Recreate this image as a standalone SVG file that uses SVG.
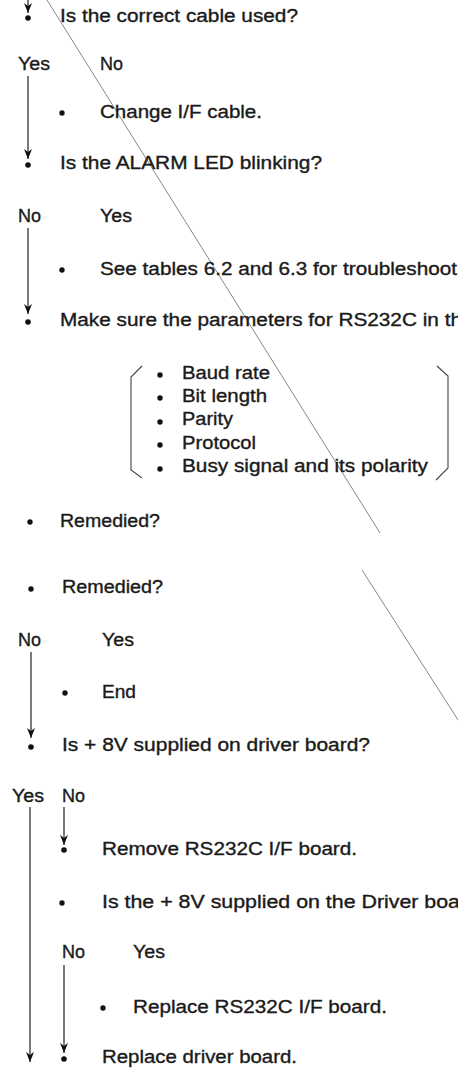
<svg xmlns="http://www.w3.org/2000/svg" width="458" height="1078" viewBox="0 0 458 1078">
<style>
text{font-family:"Liberation Sans",Arial,sans-serif;font-size:18px;fill:#1a1a1a;stroke:#1a1a1a;stroke-width:0.35}
.c{stroke:#222;stroke-width:1.2;fill:none}
.d{stroke:#888;stroke-width:1;fill:none}
.b{stroke:#444;stroke-width:1.1;fill:none}
.dot{fill:#111}
</style>
<defs>
<marker id="ah" viewBox="0 0 10 8" refX="10" refY="4" markerWidth="10" markerHeight="8" markerUnits="userSpaceOnUse" orient="auto">
<path d="M0,0 L10,4 L0,8 L3,4 Z" fill="#111"/>
</marker>
</defs>
<g id="diagonals">
<line class="d" x1="47" y1="0" x2="380" y2="533"/>
<line class="d" x1="362" y1="570" x2="460" y2="723"/>
</g>
<g id="connectors">
<line class="c" x1="28" y1="0" x2="28" y2="13" marker-end="url(#ah)"/>
<line class="c" x1="28" y1="76" x2="28" y2="159" marker-end="url(#ah)"/>
<line class="c" x1="28" y1="228" x2="28" y2="314" marker-end="url(#ah)"/>
<line class="c" x1="31" y1="652" x2="31" y2="738" marker-end="url(#ah)"/>
<line class="c" x1="30" y1="807" x2="30" y2="1062" marker-end="url(#ah)"/>
<line class="c" x1="64" y1="807" x2="64" y2="845" marker-end="url(#ah)"/>
<line class="c" x1="64" y1="965" x2="64" y2="1053" marker-end="url(#ah)"/>
<circle class="dot" cx="28" cy="18" r="2.8"/>
<circle class="dot" cx="28" cy="165" r="2.8"/>
<circle class="dot" cx="28" cy="322" r="2.8"/>
<circle class="dot" cx="31" cy="747" r="2.8"/>
<circle class="dot" cx="64" cy="850" r="2.8"/>
<circle class="dot" cx="64" cy="1059" r="2.8"/>
</g>
<g id="q1"><text x="60" y="22" textLength="238" lengthAdjust="spacingAndGlyphs">Is the correct cable used?</text></g>
<g id="q1-yes"><text x="18" y="70" textLength="32" lengthAdjust="spacingAndGlyphs">Yes</text></g>
<g id="q1-no"><text x="100" y="70" textLength="23" lengthAdjust="spacingAndGlyphs">No</text></g>
<g id="a1"><circle class="dot" cx="62" cy="113" r="2.7"/><text x="100" y="118" textLength="162" lengthAdjust="spacingAndGlyphs">Change I/F cable.</text></g>
<g id="q2"><text x="60" y="169" textLength="262" lengthAdjust="spacingAndGlyphs">Is the ALARM LED blinking?</text></g>
<g id="q2-no"><text x="18" y="222" textLength="23" lengthAdjust="spacingAndGlyphs">No</text></g>
<g id="q2-yes"><text x="100" y="222" textLength="32" lengthAdjust="spacingAndGlyphs">Yes</text></g>
<g id="a2"><circle class="dot" cx="62" cy="270" r="2.7"/><text x="100" y="275" textLength="357" lengthAdjust="spacingAndGlyphs">See tables 6.2 and 6.3 for troubleshoot</text></g>
<g id="s3"><text x="60" y="326" textLength="402" lengthAdjust="spacingAndGlyphs">Make sure the parameters for RS232C in th</text></g>
<g id="params">
<path class="b" d="M142,366 L131,377 L131,470 L142,478"/>
<path class="b" d="M437,366 L448,376 L448,468 L436,480"/>
<circle class="dot" cx="160" cy="375" r="2.7"/><text x="182" y="379" textLength="88" lengthAdjust="spacingAndGlyphs">Baud rate</text>
<circle class="dot" cx="160" cy="398" r="2.7"/><text x="182" y="402" textLength="85" lengthAdjust="spacingAndGlyphs">Bit length</text>
<circle class="dot" cx="160" cy="422" r="2.7"/><text x="182" y="425" textLength="51" lengthAdjust="spacingAndGlyphs">Parity</text>
<circle class="dot" cx="160" cy="445" r="2.7"/><text x="182" y="449" textLength="74" lengthAdjust="spacingAndGlyphs">Protocol</text>
<circle class="dot" cx="160" cy="469" r="2.7"/><text x="182" y="472" textLength="246" lengthAdjust="spacingAndGlyphs">Busy signal and its polarity</text>
</g>
<g id="r1"><circle class="dot" cx="30" cy="522" r="2.7"/><text x="60" y="527" textLength="100" lengthAdjust="spacingAndGlyphs">Remedied?</text></g>
<g id="r2"><circle class="dot" cx="31" cy="589" r="2.7"/><text x="62" y="593" textLength="101" lengthAdjust="spacingAndGlyphs">Remedied?</text></g>
<g id="r2-no"><text x="18" y="646" textLength="23" lengthAdjust="spacingAndGlyphs">No</text></g>
<g id="r2-yes"><text x="102" y="646" textLength="32" lengthAdjust="spacingAndGlyphs">Yes</text></g>
<g id="end"><circle class="dot" cx="65" cy="693" r="2.7"/><text x="102" y="698" textLength="34" lengthAdjust="spacingAndGlyphs">End</text></g>
<g id="q4"><text x="62" y="751" textLength="308" lengthAdjust="spacingAndGlyphs">Is + 8V supplied on driver board?</text></g>
<g id="q4-yes"><text x="12" y="802" textLength="32" lengthAdjust="spacingAndGlyphs">Yes</text></g>
<g id="q4-no"><text x="62" y="802" textLength="23" lengthAdjust="spacingAndGlyphs">No</text></g>
<g id="remove"><text x="102" y="855" textLength="255" lengthAdjust="spacingAndGlyphs">Remove RS232C I/F board.</text></g>
<g id="q5"><circle class="dot" cx="62" cy="903" r="2.7"/><text x="102" y="908" textLength="358" lengthAdjust="spacingAndGlyphs">Is the + 8V supplied on the Driver boa</text></g>
<g id="q5-no"><text x="62" y="958" textLength="23" lengthAdjust="spacingAndGlyphs">No</text></g>
<g id="q5-yes"><text x="133" y="958" textLength="32" lengthAdjust="spacingAndGlyphs">Yes</text></g>
<g id="replace-if"><circle class="dot" cx="103" cy="1008" r="2.7"/><text x="133" y="1013" textLength="254" lengthAdjust="spacingAndGlyphs">Replace RS232C I/F board.</text></g>
<g id="replace-driver"><text x="102" y="1063" textLength="195" lengthAdjust="spacingAndGlyphs">Replace driver board.</text></g>
</svg>
